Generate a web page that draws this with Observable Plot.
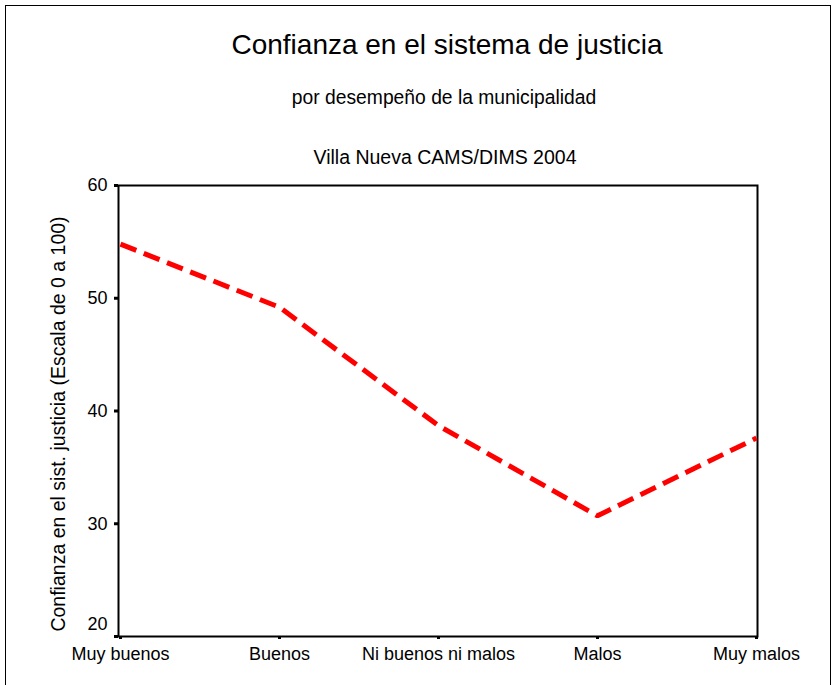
<!DOCTYPE html>
<html>
<head>
<meta charset="utf-8">
<script src="https://cdn.jsdelivr.net/npm/d3@7"></script>
<script src="https://cdn.jsdelivr.net/npm/@observablehq/plot@0.6"></script>
<style>
  html, body { margin: 0; padding: 0; background: #fff; }
  body { width: 836px; height: 685px; overflow: hidden; position: relative; font-family: "Liberation Sans", Arial, sans-serif; color: #000; }
  #frame { position: absolute; left: 5px; top: 5px; width: 826px; height: 700px; border: 1.5px solid #000; box-sizing: border-box; }
  .t { position: absolute; white-space: nowrap; transform: translateX(-50%); line-height: 1; }
  #title { left: 447px; top: 31px; font-size: 28px; }
  #sub1 { left: 444px; top: 88px; font-size: 19.3px; }
  #sub2 { left: 445px; top: 148px; font-size: 19.5px; }
  #ylab { position: absolute; left: 59px; top: 424px; white-space: nowrap; font-size: 19.5px; line-height: 1; transform: translate(-50%, -50%) rotate(-90deg); }
  #chart { position: absolute; left: 0; top: 170px; }
</style>
</head>
<body>
<div id="frame"></div>
<div class="t" id="title">Confianza en el sistema de justicia</div>
<div class="t" id="sub1">por desempeño de la municipalidad</div>
<div class="t" id="sub2">Villa Nueva CAMS/DIMS 2004</div>
<div id="ylab">Confianza en el sist. justicia (Escala de 0 a 100)</div>
<div id="chart"></div>
<script>
const categories = ["Muy buenos", "Buenos", "Ni buenos ni malos", "Malos", "Muy malos"];
const values = [54.8, 49.2, 38.7, 30.7, 37.6];
const yTicks = [20, 30, 40, 50, 60];

const data = categories.map((c, i) => ({category: c, value: values[i]}));
const upperTicks = yTicks.filter(t => t !== yTicks[0]);
const lowestTick = [yTicks[0]];

const chart = Plot.plot({
  width: 836,
  height: 515,
  marginTop: 15,
  marginBottom: 49,
  marginLeft: 118,
  marginRight: 79,
  style: {fontFamily: "'Liberation Sans', Arial, sans-serif", fontSize: "18px", color: "#000", background: "transparent"},
  x: {type: "point", domain: categories, padding: 0},
  y: {domain: [20, 60]},
  marks: [
    Plot.axisX({tickSize: 3, tickPadding: 8, strokeWidth: 3, fontSize: 18, label: null}),
    Plot.axisY({ticks: upperTicks, tickSize: 4, tickPadding: 7, strokeWidth: 3, fontSize: 18, label: null}),
    Plot.axisY({ticks: lowestTick, tickSize: 4, strokeWidth: 3, text: null, label: null}),
    Plot.axisY({ticks: lowestTick, tickSize: 0, tickPadding: 11, dy: -12, fontSize: 18, label: null}),
    Plot.frame({stroke: "#000", strokeWidth: 2}),
    Plot.line(data, {x: "category", y: "value", stroke: "#ff0000", strokeWidth: 5, strokeDasharray: "17,8", strokeLinecap: "butt", strokeLinejoin: "miter"})
  ]
});
document.getElementById("chart").appendChild(chart);
</script>
</body>
</html>
